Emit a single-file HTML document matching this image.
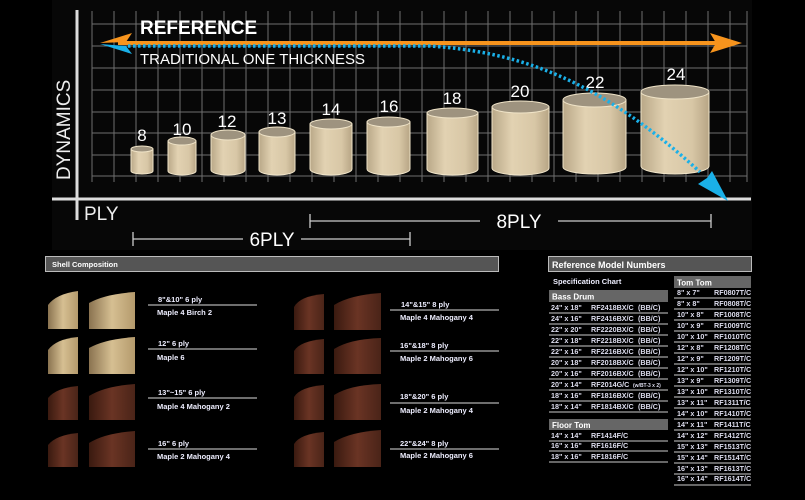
<!DOCTYPE html>
<html><head><meta charset="utf-8"><style>
html,body{margin:0;padding:0;background:#000;}
svg{display:block;}
text{font-family:"Liberation Sans",Arial,sans-serif;}
</style></head><body>
<svg width="805" height="500" viewBox="0 0 805 500" xmlns="http://www.w3.org/2000/svg">
<defs>
<linearGradient id="cyl" x1="0" x2="1" y1="0" y2="0">
<stop offset="0" stop-color="#b9a888"/><stop offset="0.35" stop-color="#e2d2b2"/><stop offset="0.75" stop-color="#d8c7a6"/><stop offset="1" stop-color="#b7a585"/>
</linearGradient>
<linearGradient id="maple" x1="0" x2="1"><stop offset="0" stop-color="#8a7350"/><stop offset="0.5" stop-color="#d6bf92"/><stop offset="1" stop-color="#b49a6c"/></linearGradient>
<linearGradient id="maho" x1="0" x2="1"><stop offset="0" stop-color="#3a1a10"/><stop offset="0.5" stop-color="#6a3424"/><stop offset="1" stop-color="#4a2418"/></linearGradient>
</defs>
<rect width="805" height="500" fill="#000"/>
<rect x="52" y="0" width="700" height="250" fill="#070707"/>
<!-- grid -->
<g stroke="#8a8a8a" stroke-width="1" opacity="0.8">
<path d="M92 11V182M114 11V182M136 11V182M158 11V182M180 11V182M202 11V182M224 11V182M246 11V182M268 11V182M290 11V182M312 11V182M334 11V182M356 11V182M378 11V182M400 11V182M422 11V182M444 11V182M466 11V182M488 11V182M510 11V182M532 11V182M554 11V182M576 11V182M598 11V182M620 11V182M642 11V182M664 11V182M686 11V182M708 11V182M730 11V182M747 11V182"/>
<path d="M92 24H747M92 46H747M92 68H747M92 90H747M92 112H747M92 133H747M92 155H747M92 176H747"/>
</g>
<!-- axes -->
<line x1="77" y1="10" x2="77" y2="220" stroke="#ddd" stroke-width="3"/>
<line x1="52" y1="199" x2="751" y2="199" stroke="#ddd" stroke-width="3"/>
<text x="0" y="0" transform="translate(70,180) rotate(-90)" font-size="19" fill="#eee">DYNAMICS</text>
<text x="84" y="220" font-size="19" fill="#eee">PLY</text>
<!-- cylinders -->
<g stroke="#f0e4c8" stroke-width="1">
<g id="c"></g>
<path d="M131 149V171A11 3 0 0 0 153 171V149Z" fill="url(#cyl)"/><ellipse cx="142" cy="149" rx="11" ry="3" fill="#9e937f"/>
<path d="M168 141V171A14 4 0 0 0 196 171V141Z" fill="url(#cyl)"/><ellipse cx="182" cy="141" rx="14" ry="4" fill="#9e937f"/>
<path d="M211 135V170A17 5 0 0 0 245 170V135Z" fill="url(#cyl)"/><ellipse cx="228" cy="135" rx="17" ry="5" fill="#9e937f"/>
<path d="M259 132V170A18 5 0 0 0 295 170V132Z" fill="url(#cyl)"/><ellipse cx="277" cy="132" rx="18" ry="5" fill="#9e937f"/>
<path d="M310 124V169A21 6 0 0 0 352 169V124Z" fill="url(#cyl)"/><ellipse cx="331" cy="124" rx="21" ry="5" fill="#9e937f"/>
<path d="M367 122V169A21.5 6 0 0 0 410 169V122Z" fill="url(#cyl)"/><ellipse cx="388.5" cy="122" rx="21.5" ry="5" fill="#9e937f"/>
<path d="M427 113V169A25.5 6 0 0 0 478 169V113Z" fill="url(#cyl)"/><ellipse cx="452.5" cy="113" rx="25.5" ry="5" fill="#9e937f"/>
<path d="M492 107V168A28.5 7 0 0 0 549 168V107Z" fill="url(#cyl)"/><ellipse cx="520.5" cy="107" rx="28.5" ry="6" fill="#9e937f"/>
<path d="M563 100V167A31.5 7 0 0 0 626 167V100Z" fill="url(#cyl)"/><ellipse cx="594.5" cy="100" rx="31.5" ry="7" fill="#9e937f"/>
<path d="M641 92V166A34 8 0 0 0 709 166V92Z" fill="url(#cyl)"/><ellipse cx="675" cy="92" rx="34" ry="7" fill="#9e937f"/>
</g>
<g font-size="17" fill="#fff" text-anchor="middle">
<text x="142" y="141">8</text><text x="182" y="135">10</text><text x="227" y="127">12</text><text x="277" y="124">13</text>
<text x="331" y="115">14</text><text x="389" y="112">16</text><text x="452" y="104">18</text><text x="520" y="97">20</text>
<text x="595" y="88">22</text><text x="676" y="80">24</text>
</g>
<!-- arrows -->
<line x1="118" y1="43" x2="720" y2="43" stroke="#f7941d" stroke-width="4"/>
<path d="M100 43L132 33L126 42Z" fill="#f7941d"/><path d="M100 44L132 54L126 46Z" fill="#1ab0e8"/>
<path d="M742 43L710 33L716 43L710 53Z" fill="#f7941d"/>
<path d="M128 46H430C520 52 600 80 700 172" fill="none" stroke="#1ab0e8" stroke-width="3.5" stroke-dasharray="2.5 2.5"/>
<path d="M728 201L698 184L707 178L712 171Z" fill="#1ab0e8"/>
<text x="140" y="34" font-size="19" font-weight="bold" fill="#fff">REFERENCE</text>
<text x="140" y="64" font-size="15" fill="#fff">TRADITIONAL ONE THICKNESS</text>
<!-- ply brackets -->
<g stroke="#ccc" stroke-width="1.3" fill="none">
<path d="M310 214V228M310 221H480M558 221H711M711 214V228"/>
<path d="M133 232V246M133 239H243M301 239H410M410 232V246"/>
</g>
<text x="519" y="228" font-size="19" fill="#fff" text-anchor="middle">8PLY</text>
<text x="272" y="246" font-size="19" fill="#fff" text-anchor="middle">6PLY</text>

<!-- shell composition -->
<rect x="45.5" y="256.5" width="453" height="15" fill="#555" stroke="#bbb"/>
<text x="52" y="267" font-size="7.5" font-weight="bold" fill="#fff">Shell Composition</text>
<rect x="548.5" y="256.5" width="203" height="15" fill="#555" stroke="#bbb"/>
<text x="552" y="268" font-size="9" font-weight="bold" fill="#fff">Reference Model Numbers</text>
<g>
<path d="M48 329V305Q56 294 78 291V329Z" fill="url(#maple)"/><path d="M89 329V303Q105 294 135 292V329Z" fill="url(#maple)"/>
<path d="M48 374V350Q56 339 78 337V374Z" fill="url(#maple)"/><path d="M89 374V348Q105 339 135 337V374Z" fill="url(#maple)"/>
<path d="M48 420V398Q56 388 78 386V420Z" fill="url(#maho)"/><path d="M89 420V396Q105 386 135 384V420Z" fill="url(#maho)"/>
<path d="M48 467V445Q56 435 78 433V467Z" fill="url(#maho)"/><path d="M89 467V443Q105 433 135 431V467Z" fill="url(#maho)"/>
<path d="M294 330V307Q300 296 324 294V330Z" fill="url(#maho)"/><path d="M334 330V305Q350 295 381 293V330Z" fill="url(#maho)"/>
<path d="M294 374V351Q300 341 324 339V374Z" fill="url(#maho)"/><path d="M334 374V349Q350 339 381 338V374Z" fill="url(#maho)"/>
<path d="M294 420V397Q300 387 324 385V420Z" fill="url(#maho)"/><path d="M334 420V395Q350 385 381 384V420Z" fill="url(#maho)"/>
<path d="M294 467V444Q300 434 324 432V467Z" fill="url(#maho)"/><path d="M334 467V442Q350 432 381 430V467Z" fill="url(#maho)"/>
</g>
<g stroke="#ddd" stroke-width="1">
<path d="M148 305H257M148 349H257M148 398H257M148 449H257M390 310H499M390 351H499M390 403H499M390 449H499"/>
</g>
<g font-size="7.5" font-weight="bold" fill="#eef">
<text x="158" y="302">8"&amp;10" 6 ply</text><text x="157" y="315">Maple 4  Birch 2</text>
<text x="158" y="346">12" 6 ply</text><text x="157" y="360">Maple 6</text>
<text x="158" y="395">13"~15" 6 ply</text><text x="157" y="409">Maple 4  Mahogany 2</text>
<text x="158" y="446">16" 6 ply</text><text x="157" y="459">Maple 2  Mahogany 4</text>
<text x="401" y="307">14"&amp;15" 8 ply</text><text x="400" y="320">Maple 4  Mahogany 4</text>
<text x="400" y="348">16"&amp;18" 8 ply</text><text x="400" y="361">Maple 2  Mahogany 6</text>
<text x="400" y="399">18"&amp;20" 6 ply</text><text x="400" y="413">Maple 2  Mahogany 4</text>
<text x="400" y="446">22"&amp;24" 8 ply</text><text x="400" y="458">Maple 2  Mahogany 6</text>
</g>
<!-- tables -->
<text x="553" y="284" font-size="7.5" font-weight="bold" fill="#eef">Specification Chart</text>
<rect x="549" y="290" width="119" height="12" fill="#666"/><text x="552" y="299.5" font-size="8" font-weight="bold" fill="#fff">Bass Drum</text>
<rect x="549" y="419" width="119" height="11" fill="#666"/><text x="552" y="428" font-size="8" font-weight="bold" fill="#fff">Floor Tom</text>
<rect x="674" y="276" width="77" height="12" fill="#666"/><text x="677" y="285.5" font-size="8" font-weight="bold" fill="#fff">Tom Tom</text>
<g stroke="#ccc" stroke-width="1">
<path d="M549 313H668M549 324H668M549 335H668M549 346H668M549 357H668M549 368H668M549 379H668M549 390H668M549 401H668M549 412H668"/>
<path d="M549 441H668M549 451H668M549 462H668"/>
<path d="M674 298H751M674 309H751M674 320H751M674 331H751M674 342H751M674 353H751M674 364H751M674 375H751M674 386H751M674 397H751M674 408H751M674 419H751M674 430H751M674 441H751M674 452H751M674 463H751M674 474H751"/>
</g>
<g font-size="7.2" font-weight="bold" fill="#dde">
<text x="551" y="310">24" x 18"</text><text x="591" y="310">RF2418BX/C</text><text x="638" y="310">(BB/C)</text>
<text x="551" y="321">24" x 16"</text><text x="591" y="321">RF2416BX/C</text><text x="638" y="321">(BB/C)</text>
<text x="551" y="332">22" x 20"</text><text x="591" y="332">RF2220BX/C</text><text x="638" y="332">(BB/C)</text>
<text x="551" y="343">22" x 18"</text><text x="591" y="343">RF2218BX/C</text><text x="638" y="343">(BB/C)</text>
<text x="551" y="354">22" x 16"</text><text x="591" y="354">RF2216BX/C</text><text x="638" y="354">(BB/C)</text>
<text x="551" y="365">20" x 18"</text><text x="591" y="365">RF2018BX/C</text><text x="638" y="365">(BB/C)</text>
<text x="551" y="376">20" x 16"</text><text x="591" y="376">RF2016BX/C</text><text x="638" y="376">(BB/C)</text>
<text x="551" y="387">20" x 14"</text><text x="591" y="387">RF2014G/C</text><text x="633" y="387" font-size="5">(w/BT-3 x 2)</text>
<text x="551" y="398">18" x 16"</text><text x="591" y="398">RF1816BX/C</text><text x="638" y="398">(BB/C)</text>
<text x="551" y="409">18" x 14"</text><text x="591" y="409">RF1814BX/C</text><text x="638" y="409">(BB/C)</text>
<text x="551" y="438">14" x 14"</text><text x="591" y="438">RF1414F/C</text>
<text x="551" y="448">16" x 16"</text><text x="591" y="448">RF1616F/C</text>
<text x="551" y="459">18" x 16"</text><text x="591" y="459">RF1816F/C</text>
<text x="677" y="295">8" x  7"</text><text x="714" y="295">RF0807T/C</text>
<text x="677" y="306">8" x  8"</text><text x="714" y="306">RF0808T/C</text>
<text x="677" y="317">10" x  8"</text><text x="714" y="317">RF1008T/C</text>
<text x="677" y="328">10" x  9"</text><text x="714" y="328">RF1009T/C</text>
<text x="677" y="339">10" x 10"</text><text x="714" y="339">RF1010T/C</text>
<text x="677" y="350">12" x  8"</text><text x="714" y="350">RF1208T/C</text>
<text x="677" y="361">12" x  9"</text><text x="714" y="361">RF1209T/C</text>
<text x="677" y="372">12" x 10"</text><text x="714" y="372">RF1210T/C</text>
<text x="677" y="383">13" x  9"</text><text x="714" y="383">RF1309T/C</text>
<text x="677" y="394">13" x 10"</text><text x="714" y="394">RF1310T/C</text>
<text x="677" y="405">13" x 11"</text><text x="714" y="405">RF1311T/C</text>
<text x="677" y="416">14" x 10"</text><text x="714" y="416">RF1410T/C</text>
<text x="677" y="427">14" x 11"</text><text x="714" y="427">RF1411T/C</text>
<text x="677" y="438">14" x 12"</text><text x="714" y="438">RF1412T/C</text>
<text x="677" y="449">15" x 13"</text><text x="714" y="449">RF1513T/C</text>
<text x="677" y="460">15" x 14"</text><text x="714" y="460">RF1514T/C</text>
<text x="677" y="471">16" x 13"</text><text x="714" y="471">RF1613T/C</text>
<text x="677" y="481">16" x 14"</text><text x="714" y="481">RF1614T/C</text>
</g>
<line x1="674" y1="485" x2="751" y2="485" stroke="#ccc"/>
</svg>
</body></html>
